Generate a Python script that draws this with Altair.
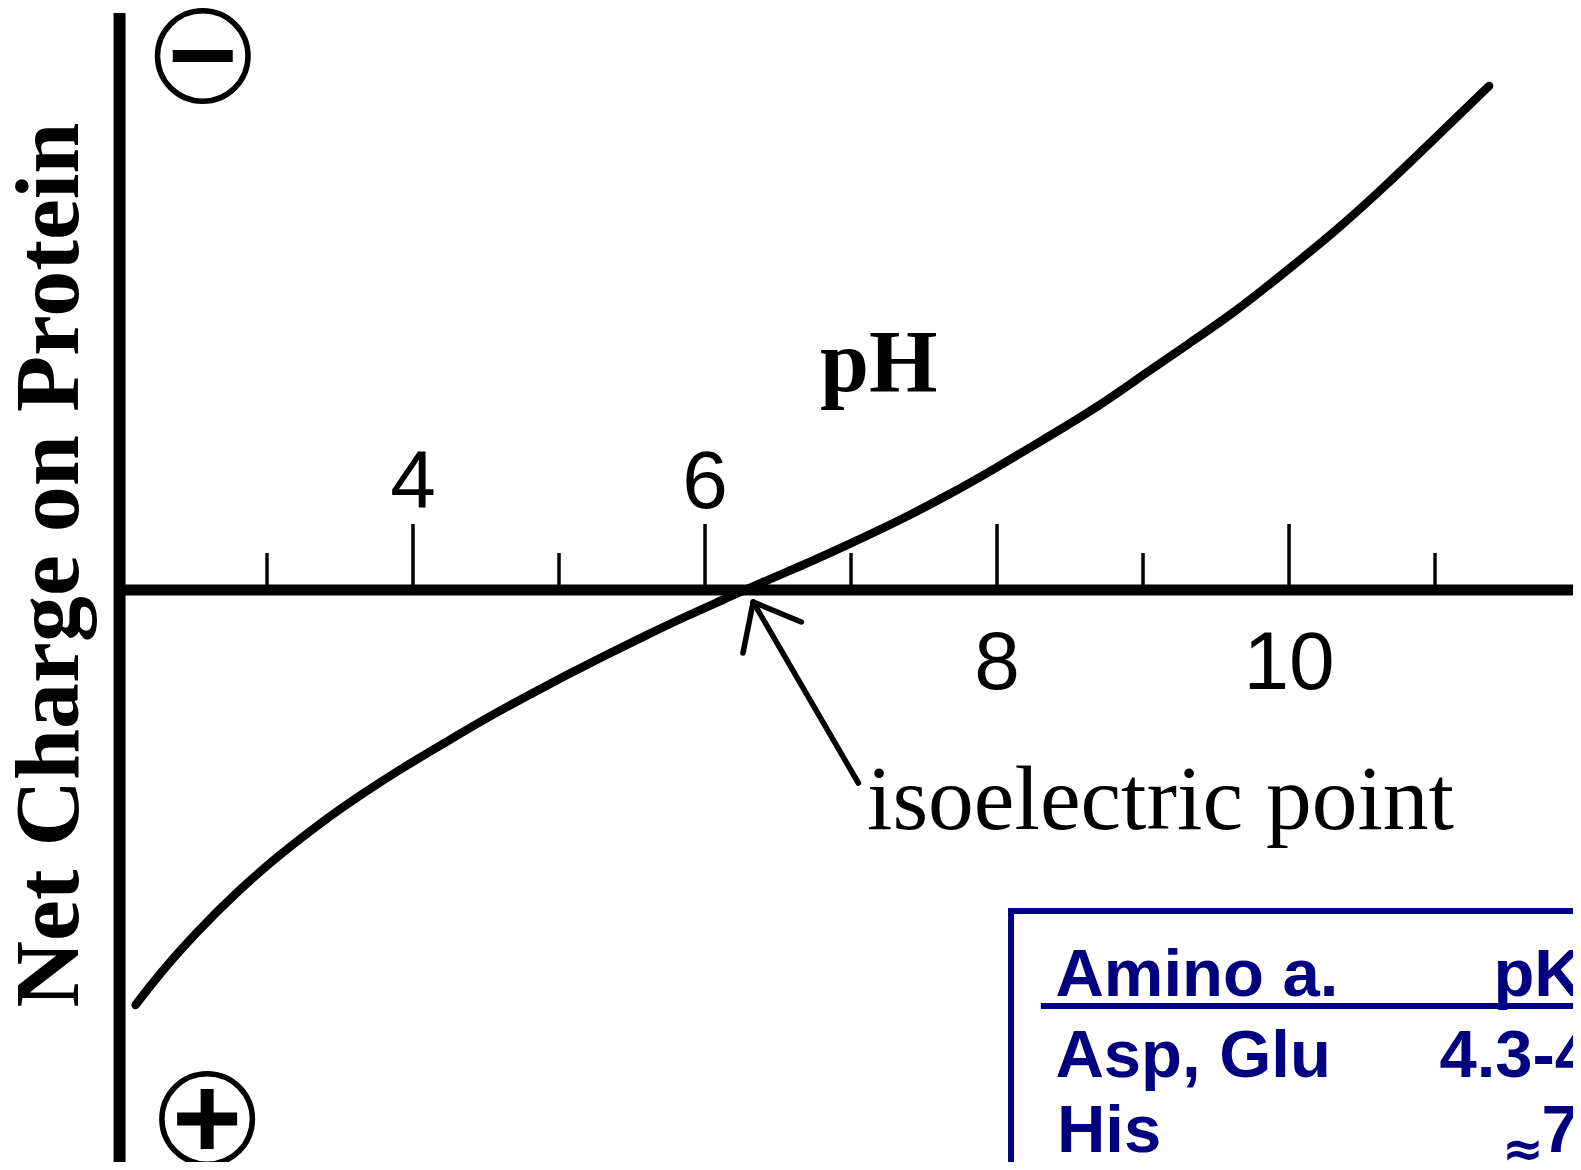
import altair as alt
import pandas as pd

# ---- data ----
curve_ph = [2.10, 2.25, 2.53, 2.81, 3.08, 3.36, 3.64, 3.92, 4.21, 4.48, 4.76, 5.04,
            5.32, 5.60, 5.88, 6.16, 6.27, 6.65, 6.96, 7.34, 7.68, 7.97, 8.36, 8.71,
            8.99, 9.32, 9.64, 9.99, 10.32, 10.66, 10.98, 11.37]
curve_charge = [8.30, 7.72, 6.80, 5.99, 5.31, 4.67, 4.10, 3.57, 3.07, 2.60, 2.15, 1.72,
                1.30, 0.90, 0.51, 0.15, 0.00, -0.47, -0.88, -1.40, -1.92, -2.40, -3.08, -3.70,
                -4.28, -4.94, -5.58, -6.40, -7.18, -8.08, -8.98, -10.08]

tick_ph = [3, 4, 5, 6, 7, 8, 9, 10, 11]
tick_kind = ["minor", "major", "minor", "major", "minor", "major", "minor", "major", "minor"]

labels_above = ["4", "6"]
labels_above_ph = [4, 6]
labels_below = ["8", "10"]
labels_below_ph = [8, 10]

isoelectric_ph = 6.33

table_header = ["Amino a.", "pKa"]
table_rows = [["Asp, Glu", "4.3-4.5"], ["His", "7"]]

# ---- scales ----
xs = alt.Scale(domain=[1.226, 11.945], nice=False, zero=False)
ys = alt.Scale(domain=[-11.64, 11.44], nice=False, zero=False, reverse=True)


def X(f="x"):
    return alt.X(f"{f}:Q", scale=xs, axis=None)


def Y(f="y"):
    return alt.Y(f"{f}:Q", scale=ys, axis=None)


BLACK = "#000000"
NAVY = "#000080"

# axes lines
vaxis = alt.Chart(pd.DataFrame({"x": [1.99], "y": [-11.54], "y2": [11.44]})).mark_rule(
    color=BLACK, strokeWidth=12, strokeCap="butt").encode(x=X(), y=Y(), y2="y2:Q")
haxis = alt.Chart(pd.DataFrame({"x": [1.96], "x2": [11.945], "y": [0.0]})).mark_rule(
    color=BLACK, strokeWidth=11, strokeCap="butt").encode(x=X(), x2="x2:Q", y=Y())

tick_len = {"major": -1.32, "minor": -0.74}
ticks_df = pd.DataFrame({"x": tick_ph, "y": [0.0] * len(tick_ph),
                         "y2": [tick_len[k] for k in tick_kind]})
ticks = alt.Chart(ticks_df).mark_rule(color=BLACK, strokeWidth=3.5, strokeCap="butt").encode(
    x=X(), y=Y(), y2="y2:Q")

# curve
curve = alt.Chart(pd.DataFrame({"x": curve_ph, "y": curve_charge})).mark_line(
    color=BLACK, strokeWidth=8.5, interpolate="basis", strokeCap="round").encode(
    x=X(), y=Y(), order="x:Q")

# tick labels
lab_above = alt.Chart(pd.DataFrame({"x": labels_above_ph, "y": [-1.64] * 2, "t": labels_above})).mark_text(
    font="Liberation Sans", fontSize=82, align="center", baseline="alphabetic", color=BLACK).encode(
    x=X(), y=Y(), text="t:N")
lab_below = alt.Chart(pd.DataFrame({"x": labels_below_ph, "y": [1.98] * 2, "t": labels_below})).mark_text(
    font="Liberation Sans", fontSize=82, align="center", baseline="alphabetic", color=BLACK).encode(
    x=X(), y=Y(), text="t:N")

# titles
ph_title = alt.Chart(pd.DataFrame({"x": [7.19], "y": [-3.98], "t": ["pH"]})).mark_text(
    font="Liberation Serif", fontWeight="bold", fontSize=88, align="center", baseline="alphabetic",
    color=BLACK).encode(x=X(), y=Y(), text="t:N")
y_title = alt.Chart(pd.DataFrame({"x": [1.705], "y": [-0.5], "t": ["Net Charge on Protein"]})).mark_text(
    font="Liberation Serif", fontWeight="bold", fontSize=92, align="center", baseline="alphabetic",
    angle=270, color=BLACK).encode(x=X(), y=Y(), text="t:N")

iso_text = alt.Chart(pd.DataFrame({"x": [7.11], "y": [4.78], "t": ["isoelectric point"]})).mark_text(
    font="Liberation Serif", fontSize=91.5, align="left", baseline="alphabetic", color=BLACK).encode(
    x=X(), y=Y(), text="t:N")

# arrow to the isoelectric point
arrow_df = pd.DataFrame({
    "x": [7.05, isoelectric_ph, isoelectric_ph],
    "y": [3.86, 0.24, 0.24],
    "x2": [isoelectric_ph, 6.26, 6.66],
    "y2": [0.24, 1.26, 0.64],
})
arrow = alt.Chart(arrow_df).mark_rule(color=BLACK, strokeWidth=5.5, strokeCap="round").encode(
    x=X(), y=Y(), x2="x2:Q", y2="y2:Q")

# charge symbols
sym_df = pd.DataFrame({"x": [2.56, 2.59], "y": [-10.68, 10.58]})
circles = alt.Chart(sym_df).mark_point(shape="circle", filled=False, size=8190, stroke=BLACK,
                                       strokeWidth=5.5, opacity=1).encode(x=X(), y=Y())
minus = alt.Chart(sym_df.iloc[[0]]).mark_point(shape="M-1,0L1,0", filled=False, size=3600, stroke=BLACK,
                                               strokeWidth=12, opacity=1).encode(x=X(), y=Y())
plus = alt.Chart(sym_df.iloc[[1]]).mark_point(shape="M-1,0L1,0M0,-1L0,1", filled=False, size=3600,
                                              stroke=BLACK, strokeWidth=13, opacity=1).encode(x=X(), y=Y())

# table box
box = alt.Chart(pd.DataFrame({"x": [8.096], "x2": [13.0], "y": [6.42], "y2": [13.0]})).mark_rect(
    filled=False, stroke=NAVY, strokeWidth=6).encode(x=X(), x2="x2:Q", y=Y(), y2="y2:Q")
underline = alt.Chart(pd.DataFrame({"x": [8.30], "x2": [13.0], "y": [8.32]})).mark_rule(
    color=NAVY, strokeWidth=6, strokeCap="butt").encode(x=X(), x2="x2:Q", y=Y())

tbl_df = pd.DataFrame({
    "x": [8.40, 11.40, 8.40, 11.03, 8.41, 11.73],
    "y": [8.12, 8.12, 9.74, 9.74, 11.24, 11.24],
    "t": [table_header[0], table_header[1], table_rows[0][0], table_rows[0][1],
          table_rows[1][0], table_rows[1][1]],
})
tbl_text = alt.Chart(tbl_df).mark_text(font="Liberation Sans", fontWeight="bold", fontSize=67,
                                       align="left", baseline="alphabetic", color=NAVY).encode(
    x=X(), y=Y(), text="t:N")
approx = alt.Chart(pd.DataFrame({"x": [11.46], "y": [11.52], "t": ["≈"]})).mark_text(
    font="DejaVu Sans", fontWeight="bold", fontSize=50, align="left", baseline="alphabetic",
    color=NAVY).encode(x=X(), y=Y(), text="t:N")

chart = alt.layer(
    box, underline, tbl_text, approx,
    vaxis, haxis, ticks, curve, lab_above, lab_below, ph_title, y_title, iso_text,
    arrow, circles, minus, plus,
).properties(
    width=1565, height=1154,
    autosize=alt.AutoSizeParams(type="none"),
    padding=0,
    background="white",
).configure_view(strokeWidth=0)

chart.save("out.html", embed_options={"renderer": "svg", "actions": False})
